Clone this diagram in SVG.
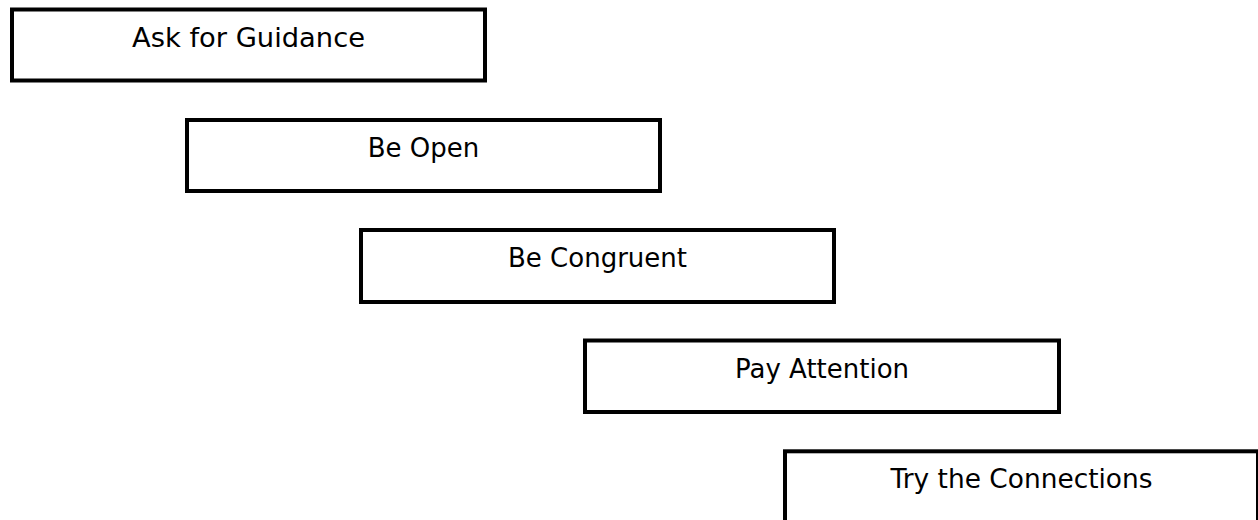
<svg xmlns="http://www.w3.org/2000/svg" width="1258" height="520" viewBox="0 0 1258 520">
<style>
.box{fill:#fff;stroke:#000;stroke-width:4}
.lbl{font-family:"DejaVu Sans",sans-serif;font-size:26px;fill:#000;text-anchor:middle}
</style>
<rect width="1258" height="520" fill="#fff"/>
<g id="connectors"></g>
<g id="n1"><rect class="box" x="12" y="9.5" width="473" height="71"/><text class="lbl" x="248.5" y="46.5" textLength="233" lengthAdjust="spacingAndGlyphs">Ask for Guidance</text></g>
<g id="n2"><rect class="box" x="187" y="120" width="473" height="71"/><text class="lbl" x="423.5" y="157">Be Open</text></g>
<g id="n3"><rect class="box" x="361" y="230" width="473" height="72"/><text class="lbl" x="597.5" y="267">Be Congruent</text></g>
<g id="n4"><rect class="box" x="585" y="340.5" width="474" height="71.5"/><text class="lbl" x="822" y="377.5">Pay Attention</text></g>
<g id="n5"><rect class="box" x="785" y="451.3" width="473" height="71"/><text class="lbl" x="1021.5" y="488" textLength="262" lengthAdjust="spacingAndGlyphs">Try the Connections</text></g>
</svg>
